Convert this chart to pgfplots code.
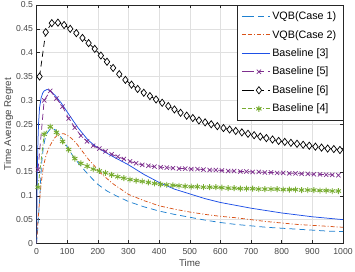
\documentclass[border=0pt]{standalone}
\usepackage{pgfplots}
\pgfplotsset{compat=1.18}
\usepackage{fontspec}
\setmainfont{Liberation Sans}
\definecolor{cOne}{RGB}{30,128,208}
\definecolor{cTwo}{RGB}{217,83,25}
\definecolor{cThree}{RGB}{30,80,230}
\definecolor{cFive}{RGB}{126,47,142}
\definecolor{cFour}{RGB}{119,172,48}
\definecolor{axgray}{RGB}{38,38,38}
\begin{document}
\begin{tikzpicture}
\begin{axis}[
  scale only axis,
  width=306.5bp, height=238.5bp,
  xmin=0, xmax=1000, ymin=0, ymax=0.5,
  xtick={0,100,...,1000},
  xticklabels={0,100,200,300,400,500,600,700,800,900,1000},
  ytick={0,0.05,0.1,0.15,0.2,0.25,0.3,0.35,0.4,0.45,0.5},
  yticklabels={0,0.05,0.1,0.15,0.2,0.25,0.3,0.35,0.4,0.45,0.5},
  tick align=inside, tick pos=both,
  major tick length=3bp,
  grid=major,
  grid style={color=black!12, line width=0.4pt},
  axis line style={color=axgray, line width=0.5pt},
  every tick/.style={color=axgray, line width=0.5pt},
  tick label style={font=\fontsize{8.7}{10}\selectfont, text=axgray!85},
  xticklabel style={yshift=-1bp},
  xlabel={Time}, ylabel={Time Average Regret},
  label style={font=\fontsize{9.8}{11}\selectfont, text=axgray!85},
  xlabel style={yshift=1.5bp},
  ylabel style={yshift=-4bp},
  legend style={at={(1,1)}, anchor=north east, draw=axgray, line width=0.5pt,
    font=\fontsize{10.8}{12.5}\selectfont, text=black, row sep=5.2bp,
    inner xsep=4.5bp, inner ysep=4.5bp},
  legend cell align=left,
  legend image code/.code={\path (-6bp,0bp) -- (0bp,0bp); \draw[mark repeat=2,mark phase=2] plot coordinates {(0bp,0bp) (11bp,0bp) (22bp,0bp)};},
]
\coordinate (ll) at (rel axis cs:0,0);
\coordinate (ur) at (rel axis cs:1,1);
% VQB Case 1
\addplot[cOne, line width=0.75pt, dash pattern=on 6bp off 4bp] coordinates {
(0,0) (4,0.03) (8,0.07) (11,0.10) (14,0.14) (17,0.17) (22,0.20) (28,0.22) (35,0.232) (45,0.240) (52,0.241) (62,0.238) (70,0.232) (80,0.223) (100,0.203) (120,0.182) (140,0.166) (160,0.151) (180,0.137) (200,0.124) (230,0.110) (260,0.100) (300,0.088) (350,0.077) (400,0.068) (450,0.061) (500,0.055) (550,0.049) (600,0.044) (650,0.040) (700,0.037) (750,0.034) (800,0.032) (850,0.030) (900,0.028) (950,0.026) (1000,0.025)};
\addlegendentry{VQB(Case 1)}
% VQB Case 2
\addplot[cTwo, line width=0.75pt, dash pattern=on 4bp off 2bp on 1bp off 2bp] coordinates {
(0,0) (2,0.018) (5,0.05) (9,0.081) (15,0.125) (22,0.160) (30,0.182) (40,0.200) (50,0.212) (60,0.222) (70,0.228) (80,0.230) (90,0.230) (100,0.227) (115,0.220) (130,0.210) (150,0.193) (170,0.176) (190,0.162) (210,0.147) (250,0.125) (300,0.103) (350,0.090) (400,0.079) (450,0.072) (500,0.066) (550,0.061) (600,0.057) (650,0.054) (700,0.050) (750,0.046) (800,0.043) (850,0.040) (900,0.038) (950,0.036) (1000,0.034)};
\addlegendentry{VQB(Case 2)}
% Baseline [3]
\addplot[cThree, line width=0.75pt, solid] coordinates {
(0,0) (1,0.06) (2,0.12) (3,0.165) (5,0.22) (7,0.255) (10,0.285) (15,0.305) (20,0.315) (25,0.320) (35,0.323) (45,0.320) (60,0.311) (80,0.295) (100,0.276) (120,0.257) (135,0.243) (150,0.231) (168,0.217) (190,0.205) (220,0.193) (250,0.182) (300,0.165) (350,0.145) (400,0.128) (450,0.114) (500,0.104) (550,0.094) (600,0.086) (650,0.080) (700,0.074) (750,0.069) (800,0.064) (850,0.060) (900,0.056) (950,0.053) (1000,0.050)};
\addlegendentry{Baseline [3]}
% Baseline [5]
\addplot[cFive, line width=0.75pt, dash pattern=on 6bp off 4bp, mark=x, mark size=3bp, mark options={solid, line width=0.7pt}] coordinates {
(5,0.155) (25,0.300) (45,0.320) (65,0.304) (85,0.287) (105,0.262) (125,0.243) (145,0.226) (165,0.214) (185,0.205)
(205,0.199) (225,0.193) (245,0.187) (265,0.182) (285,0.177) (305,0.172) (325,0.168) (345,0.165) (365,0.163) (385,0.161)
(405,0.160) (425,0.159) (445,0.158) (465,0.157) (485,0.157) (505,0.156) (525,0.156) (545,0.155) (565,0.154) (585,0.154)
(605,0.153) (625,0.152) (645,0.152) (665,0.151) (685,0.151) (705,0.150) (725,0.150) (745,0.149) (765,0.149) (785,0.148)
(805,0.148) (825,0.147) (845,0.147) (865,0.146) (885,0.146) (905,0.145) (925,0.145) (945,0.144) (965,0.144) (985,0.143)};
\addlegendentry{Baseline [5]}
% Baseline [6]
\addplot[black, line width=0.75pt, dash pattern=on 6bp off 4bp, mark=diamond*, mark size=3.6bp, mark options={solid, fill=white, line width=0.7pt}] coordinates {
(10,0.350) (30,0.443) (50,0.462) (70,0.463) (90,0.458) (110,0.450) (130,0.441) (150,0.431) (170,0.420) (190,0.408)
(210,0.394) (230,0.381) (250,0.368) (270,0.355) (290,0.343) (310,0.333) (330,0.324) (350,0.316) (370,0.309) (390,0.302)
(410,0.295) (430,0.288) (450,0.281) (470,0.274) (490,0.268) (510,0.263) (530,0.258) (550,0.254) (570,0.250) (590,0.246)
(610,0.242) (630,0.239) (650,0.236) (670,0.233) (690,0.230) (710,0.227) (730,0.224) (750,0.221) (770,0.218) (790,0.215)
(810,0.213) (830,0.211) (850,0.209) (870,0.207) (890,0.205) (910,0.203) (930,0.201) (950,0.199) (970,0.198) (990,0.196)};
\addlegendentry{Baseline [6]}
% Baseline [4]
\addplot[cFour, line width=0.75pt, dash pattern=on 4bp off 2bp on 1bp off 2bp, mark=asterisk, mark size=3bp, mark options={solid, line width=0.9pt}] coordinates {
(5,0.118) (25,0.229) (45,0.245) (65,0.233) (85,0.214) (105,0.197) (125,0.178) (145,0.168) (165,0.162) (185,0.156)
(205,0.152) (225,0.148) (245,0.144) (265,0.140) (285,0.137) (305,0.134) (325,0.132) (345,0.130) (365,0.128) (385,0.126)
(405,0.124) (425,0.123) (445,0.122) (465,0.121) (485,0.120) (505,0.119) (525,0.119) (545,0.118) (565,0.118) (585,0.118)
(605,0.117) (625,0.116) (645,0.116) (665,0.115) (685,0.115) (705,0.115) (725,0.114) (745,0.114) (765,0.114) (785,0.114)
(805,0.113) (825,0.113) (845,0.113) (865,0.112) (885,0.112) (905,0.112) (925,0.111) (945,0.111) (965,0.110) (985,0.110)};
\addlegendentry{Baseline [4]}
\end{axis}
\pgfresetboundingbox
\path[use as bounding box] ([xshift=-36.5bp,yshift=-28.5bp]ll) rectangle ([xshift=12bp,yshift=5bp]ur);
\end{tikzpicture}
\end{document}
